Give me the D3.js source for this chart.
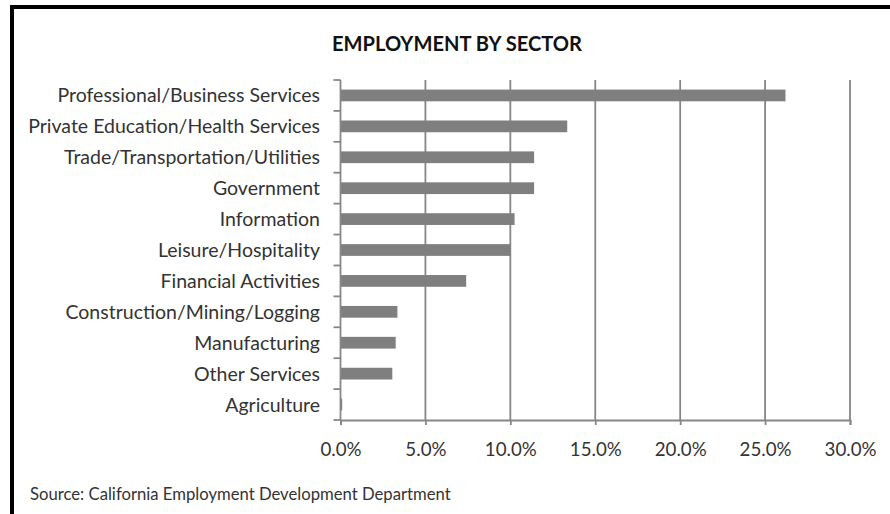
<!DOCTYPE html>
<html><head><meta charset="utf-8">
<script src="https://cdn.jsdelivr.net/npm/d3@7"></script>
<style>
html,body{margin:0;padding:0;background:#fff;}
svg{display:block;}
text{font-family:Lato,"Open Sans","Liberation Sans",sans-serif;}
</style></head>
<body>
<script>
const categories = ["Professional/Business Services","Private Education/Health Services","Trade/Transportation/Utilities","Government","Information","Leisure/Hospitality","Financial Activities","Construction/Mining/Logging","Manufacturing","Other Services","Agriculture"];
const shares = [26.2, 13.35, 11.4, 11.4, 10.25, 10.0, 7.4, 3.35, 3.25, 3.05, 0.1];
const tickValues = [0, 5, 10, 15, 20, 25, 30];
const title = "EMPLOYMENT BY SECTOR";
const source = "Source: California Employment Development Department";

(function () {
const W = 890, H = 514;
const svg = d3.select("body").append("svg").attr("width", W).attr("height", H);
svg.append("rect").attr("width", W).attr("height", H).attr("fill", "#fff");

// frame (top and left edges)
svg.append("path").attr("d", `M12,${H} L12,7 L${W},7`).attr("fill","none").attr("stroke","#000").attr("stroke-width",4);

const pLeft = 340.5, pRight = 850, pTop = 80, pBottom = 420;
const x = d3.scaleLinear().domain([0, 30]).range([pLeft, pRight]);
const y = d3.scaleBand().domain(categories).range([pTop, pBottom]).paddingInner(0.62).paddingOuter(0.31);
const gray = "#878787";

function fit(sel, target) {
  const w = sel.node().getComputedTextLength();
  const fs = parseFloat(sel.attr("font-size"));
  sel.attr("font-size", fs * target / w);
}

// gridlines
svg.append("g").selectAll("line").data(tickValues.slice(1)).join("line")
  .attr("x1", d => x(d)).attr("x2", d => x(d)).attr("y1", pTop).attr("y2", pBottom)
  .attr("stroke", gray).attr("stroke-width", 1.8);

// bars
svg.append("g").selectAll("rect").data(categories).join("rect")
  .attr("x", x(0)).attr("y", d => y(d))
  .attr("width", (d, i) => x(shares[i]) - x(0))
  .attr("height", y.bandwidth())
  .attr("fill", "#7f7f7f");

// x axis
const xAxis = svg.append("g").attr("transform", `translate(0,${pBottom})`)
  .call(d3.axisBottom(x).tickValues(tickValues).tickSize(5).tickPadding(18).tickFormat(d => d.toFixed(1) + "%"));
xAxis.select(".domain").attr("stroke", gray).attr("stroke-width", 1.8);
xAxis.selectAll(".tick line").attr("stroke", gray).attr("stroke-width", 1.8);
const tickTexts = xAxis.selectAll(".tick text").attr("font-size", 16).attr("fill", "#333").attr("font-family", "Lato, 'Open Sans', sans-serif");
const ref = tickTexts.filter(d => d === 10);
const wt = ref.node().getComputedTextLength();
tickTexts.attr("font-size", 16 * 52 / wt);

// y axis (ticks at band boundaries)
const step = y.step();
const bounds = categories.map(c => y(c) - step * y.paddingInner() / 2).concat([pBottom]);
svg.append("line").attr("x1", pLeft).attr("x2", pLeft).attr("y1", pTop).attr("y2", pBottom)
  .attr("stroke", gray).attr("stroke-width", 1.8);
svg.append("g").selectAll("line").data(bounds).join("line")
  .attr("x1", pLeft - 7).attr("x2", pLeft).attr("y1", d => d).attr("y2", d => d)
  .attr("stroke", gray).attr("stroke-width", 1.8);

// category labels
const labels = svg.append("g").selectAll("text").data(categories).join("text")
  .attr("x", 320).attr("y", d => y(d) + y.bandwidth() / 2)
  .attr("dy", "0.36em").attr("text-anchor", "end")
  .attr("font-size", 16).attr("fill", "#333").text(d => d);
const longest = labels.filter((d, i) => i === 1);
const w0 = longest.node().getComputedTextLength();
labels.attr("font-size", 16 * 292 / w0);

// title
const t = svg.append("text").attr("x", 457).attr("y", 51).attr("text-anchor", "middle")
  .attr("font-size", 18).attr("font-weight", "bold").attr("fill", "#111").text(title);
fit(t, 250);

// source
const s = svg.append("text").attr("x", 30).attr("y", 500)
  .attr("font-size", 15).attr("fill", "#333").text(source);
fit(s, 421);
})();
</script>
</body></html>
